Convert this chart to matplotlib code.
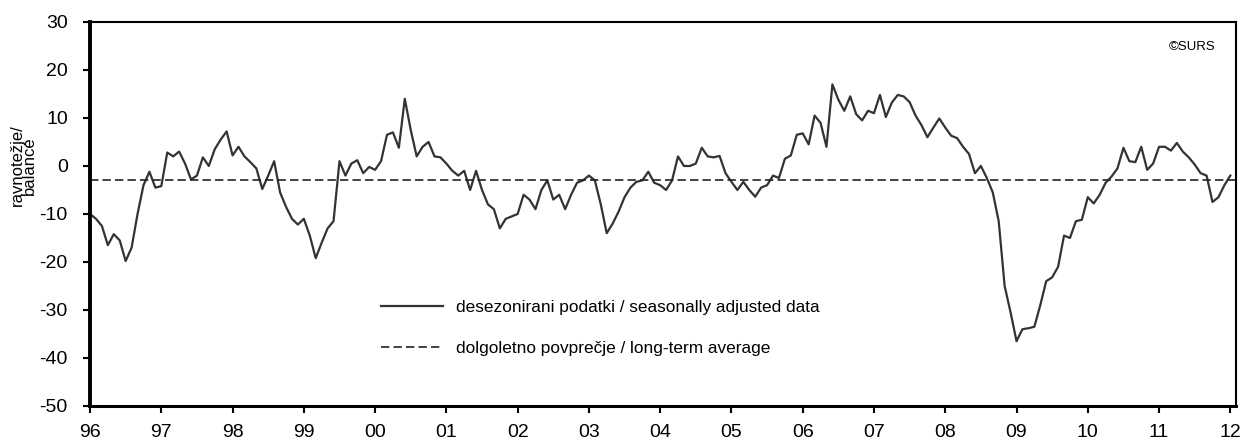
import numpy as np
import matplotlib.pyplot as plt

plt.rcParams['font.family'] = ['Liberation Sans', 'DejaVu Sans']
plt.rcParams['axes.unicode_minus'] = False

# monthly balance, seasonally adjusted, Jan 1996 .. Jan 2012
balance = [
    -10.0, -11.0, -12.5, -16.5, -14.2, -15.5, -19.8, -17.0, -10.0, -4.0, -1.2, -4.5,   # 1996
    -4.2, 2.8, 2.0, 3.0, 0.5, -2.8, -2.0, 1.8, 0.0, 3.5, 5.5, 7.2,                   # 1997
    2.2, 4.0, 2.0, 0.8, -0.5, -4.8, -2.0, 1.0, -5.5, -8.5, -11.0, -12.2,              # 1998
    -11.0, -14.5, -19.2, -16.0, -13.0, -11.5, 1.0, -2.0, 0.5, 1.2, -1.5, -0.2,        # 1999
    -0.8, 1.0, 6.5, 7.0, 3.8, 14.0, 7.5, 2.0, 4.0, 5.0, 2.0, 1.8,                     # 2000
    0.5, -1.0, -2.0, -1.0, -5.0, -1.0, -5.0, -8.0, -9.0, -13.0, -11.0, -10.5,         # 2001
    -10.0, -6.0, -7.0, -9.0, -5.0, -3.0, -7.0, -6.0, -9.0, -6.0, -3.5, -3.0,          # 2002
    -2.0, -3.0, -8.0, -14.0, -12.0, -9.5, -6.5, -4.5, -3.3, -3.0, -1.2, -3.5,         # 2003
    -4.0, -5.0, -3.0, 2.0, 0.0, 0.0, 0.5, 3.8, 2.0, 1.8, 2.1, -1.5,                   # 2004
    -3.3, -5.0, -3.3, -5.0, -6.4, -4.5, -4.0, -2.0, -2.5, 1.5, 2.2, 6.5,              # 2005
    6.8, 4.5, 10.5, 9.0, 4.0, 17.0, 13.8, 11.5, 14.5, 10.8, 9.5, 11.5,                # 2006
    11.0, 14.8, 10.2, 13.2, 14.8, 14.5, 13.3, 10.5, 8.5, 6.0, 8.0, 9.9,               # 2007
    8.0, 6.3, 5.8, 4.0, 2.5, -1.5, 0.0, -2.5, -5.5, -11.5, -25.0, -30.5,              # 2008
    -36.5, -34.0, -33.8, -33.5, -29.0, -24.0, -23.2, -21.0, -14.5, -15.0, -11.5, -11.2,  # 2009
    -6.5, -7.8, -6.0, -3.5, -2.2, -0.5, 3.8, 1.0, 0.8, 4.0, -0.8, 0.5,                # 2010
    4.0, 4.0, 3.2, 4.8, 3.0, 1.8, 0.3, -1.5, -2.0, -7.5, -6.5, -4.0,                  # 2011
    -2.0,                                                                             # 2012
]
long_term_avg = -3.0
start_year = 1996
year_ticks = list(range(1996, 2013))
year_labels = [str(y)[2:] for y in year_ticks]

months = start_year + np.arange(len(balance)) / 12.0

fig = plt.figure(figsize=(12.47, 4.44), dpi=100)
ax = fig.add_axes([0.0722, 0.0856, 0.9190, 0.8649])

ax.plot(months, balance, color='#333333', lw=1.6,
        label='desezonirani podatki / seasonally adjusted data')
ax.axhline(long_term_avg, color='#222222', lw=1.2, ls=(0, (5, 2.5)),
           label='dolgoletno povprečje / long-term average')

ax.set_xlim(1996, 2012.08)
ax.set_ylim(-50, 30)
ax.set_yticks(range(-50, 31, 10))
ax.set_xticks(year_ticks)
ax.set_xticklabels(year_labels)
ax.tick_params(axis='both', direction='out', length=5, width=1.5, labelsize=14,
               color='black')
ax.tick_params(axis='x', pad=8)
ax.tick_params(axis='y', pad=11)

for side in ['top', 'right']:
    ax.spines[side].set_linewidth(1.5)
ax.spines['left'].set_linewidth(2.8)
ax.spines['bottom'].set_linewidth(2.2)

ax.set_ylabel('ravnotežje/\nbalance', fontsize=12, linespacing=0.8)
ax.yaxis.set_label_coords(-0.046, 0.627)

ax.text(0.962, 0.935, '©SURS', transform=ax.transAxes, fontsize=9.5,
        ha='center', va='center')

leg = ax.legend(loc='upper left', bbox_to_anchor=(0.248, 0.295), frameon=False,
                fontsize=12.4, handlelength=3.6, handletextpad=0.75,
                labelspacing=1.5, borderaxespad=0)

fig.savefig('out.png', dpi=100)
